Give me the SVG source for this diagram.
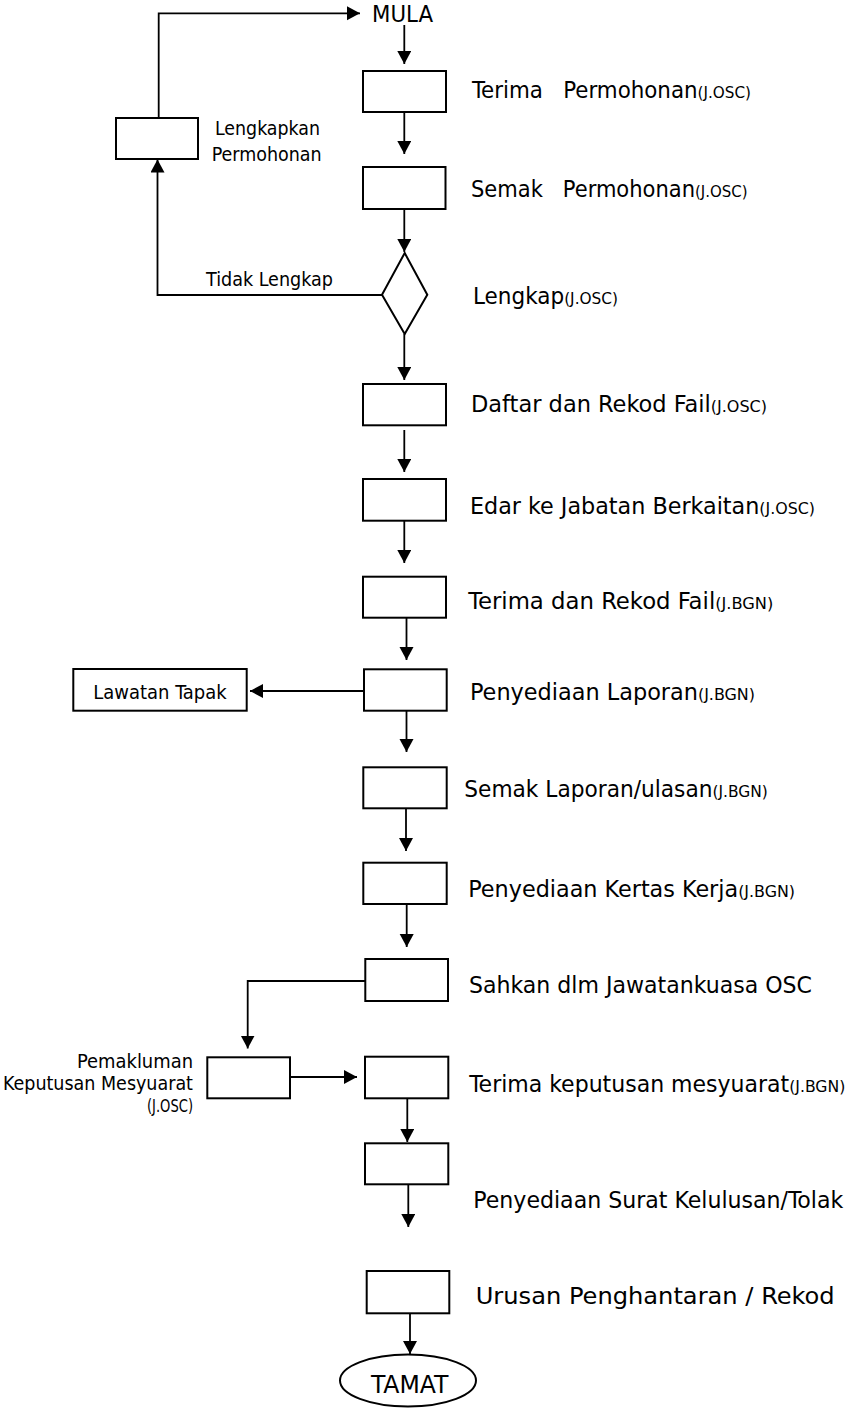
<svg xmlns="http://www.w3.org/2000/svg" width="850" height="1410" viewBox="0 0 850 1410">
<style>
.box{fill:#fff;stroke:#000;stroke-width:2}
.ln{fill:none;stroke:#000;stroke-width:1.8}
.t{font-family:"DejaVu Sans Condensed","DejaVu Sans",sans-serif;font-size:22.5px;fill:#000}
.s{font-size:16px}
.m{font-family:"DejaVu Sans Condensed","DejaVu Sans",sans-serif;font-size:20px;fill:#000}
.pre{white-space:pre}
</style>
<defs>
<marker id="ah" markerUnits="userSpaceOnUse" markerWidth="15" markerHeight="15" refX="13" refY="7" orient="auto">
<path d="M0,0 L13,7 L0,14 Z" fill="#000"/>
</marker>
</defs>
<rect width="850" height="1410" fill="#fff"/>
<g id="connectors" class="ln">
<line x1="404.3" y1="25" x2="404.3" y2="64" marker-end="url(#ah)"/>
<line x1="404.3" y1="112" x2="404.3" y2="154" marker-end="url(#ah)"/>
<line x1="404.3" y1="209" x2="404.3" y2="252" marker-end="url(#ah)"/>
<line x1="404.3" y1="334" x2="404.3" y2="380" marker-end="url(#ah)"/>
<line x1="404.3" y1="430" x2="404.3" y2="472" marker-end="url(#ah)"/>
<line x1="404.3" y1="521" x2="404.3" y2="563" marker-end="url(#ah)"/>
<line x1="406.5" y1="618" x2="406.5" y2="660" marker-end="url(#ah)"/>
<line x1="406.5" y1="711" x2="406.5" y2="752" marker-end="url(#ah)"/>
<line x1="406" y1="808" x2="406" y2="851" marker-end="url(#ah)"/>
<line x1="406.7" y1="904" x2="406.7" y2="947" marker-end="url(#ah)"/>
<line x1="407.3" y1="1098" x2="407.3" y2="1142" marker-end="url(#ah)"/>
<line x1="408.3" y1="1184" x2="408.3" y2="1227" marker-end="url(#ah)"/>
<line x1="410" y1="1313" x2="410" y2="1354" marker-end="url(#ah)"/>
<polyline points="382,295 157.5,295 157.5,159.5" marker-end="url(#ah)"/>
<polyline points="158.7,118 158.7,13.3 360,13.3" marker-end="url(#ah)"/>
<line x1="364" y1="691" x2="250" y2="691" marker-end="url(#ah)"/>
<polyline points="365.3,981 247.7,981 247.7,1048.5" marker-end="url(#ah)"/>
<line x1="290" y1="1077" x2="357" y2="1077" marker-end="url(#ah)"/>
</g>
<g id="mula"><text class="t" x="372" y="21.7" textLength="61" lengthAdjust="spacingAndGlyphs" style="font-size:23px">MULA</text></g>
<g id="n1"><rect class="box" x="363" y="71" width="83" height="41"/><text class="t pre" xml:space="preserve" x="472" y="98" textLength="279" lengthAdjust="spacingAndGlyphs">Terima   Permohonan<tspan class="s">(J.OSC)</tspan></text></g>
<g id="n2"><rect class="box" x="363" y="167" width="82.5" height="42"/><text class="t pre" xml:space="preserve" x="471" y="196.7" textLength="276.5" lengthAdjust="spacingAndGlyphs">Semak   Permohonan<tspan class="s">(J.OSC)</tspan></text></g>
<g id="n3"><polygon class="box" points="404.7,253 427.3,294.7 404.7,334 382,294.7"/><text class="t" x="473" y="304" textLength="145" lengthAdjust="spacingAndGlyphs">Lengkap<tspan class="s">(J.OSC)</tspan></text></g>
<g id="n_lengkapkan"><rect class="box" x="116" y="118" width="82" height="41"/><text class="m" x="215" y="135" textLength="105" lengthAdjust="spacingAndGlyphs">Lengkapkan</text><text class="m" x="211.7" y="160.5" textLength="110" lengthAdjust="spacingAndGlyphs">Permohonan</text></g>
<g id="lbl_tidak"><text class="m" x="206" y="286" textLength="127" lengthAdjust="spacingAndGlyphs">Tidak Lengkap</text></g>
<g id="n4"><rect class="box" x="363" y="384" width="83" height="41.3"/><text class="t" x="471" y="412" textLength="296" lengthAdjust="spacingAndGlyphs">Daftar dan Rekod Fail<tspan class="s">(J.OSC)</tspan></text></g>
<g id="n5"><rect class="box" x="363" y="479" width="83" height="41.7"/><text class="t" x="470" y="514" textLength="345" lengthAdjust="spacingAndGlyphs">Edar ke Jabatan Berkaitan<tspan class="s">(J.OSC)</tspan></text></g>
<g id="n6"><rect class="box" x="363" y="576.7" width="83" height="41"/><text class="t" x="468.3" y="609" textLength="305" lengthAdjust="spacingAndGlyphs">Terima dan Rekod Fail<tspan class="s">(J.BGN)</tspan></text></g>
<g id="n7"><rect class="box" x="364" y="669.3" width="82.7" height="41.4"/><text class="t" x="470" y="700" textLength="285" lengthAdjust="spacingAndGlyphs">Penyediaan Laporan<tspan class="s">(J.BGN)</tspan></text></g>
<g id="n_lawatan"><rect class="box" x="73.3" y="669" width="173.4" height="41.7"/><text class="m" x="93.3" y="699" textLength="133.4" lengthAdjust="spacingAndGlyphs">Lawatan Tapak</text></g>
<g id="n8"><rect class="box" x="363.3" y="767.3" width="83.4" height="41"/><text class="t" x="464.3" y="796.7" textLength="303.4" lengthAdjust="spacingAndGlyphs">Semak Laporan/ulasan<tspan class="s">(J.BGN)</tspan></text></g>
<g id="n9"><rect class="box" x="363.3" y="862.7" width="83.4" height="41.3"/><text class="t" x="468.3" y="896.7" textLength="326.7" lengthAdjust="spacingAndGlyphs">Penyediaan Kertas Kerja<tspan class="s">(J.BGN)</tspan></text></g>
<g id="n10"><rect class="box" x="365.3" y="959" width="82.7" height="42"/><text class="t" x="469" y="993" textLength="343" lengthAdjust="spacingAndGlyphs">Sahkan dlm Jawatankuasa OSC</text></g>
<g id="n_pemakluman"><rect class="box" x="207.3" y="1057.3" width="82.7" height="41"/><text class="m" x="77" y="1068" textLength="116" lengthAdjust="spacingAndGlyphs">Pemakluman</text><text class="m" x="3" y="1090" textLength="190" lengthAdjust="spacingAndGlyphs">Keputusan Mesyuarat</text><text class="m" x="147" y="1112" textLength="46" lengthAdjust="spacingAndGlyphs" style="font-size:17px">(J.OSC)</text></g>
<g id="n11"><rect class="box" x="365" y="1056.7" width="83.3" height="41.6"/><text class="t" x="469.3" y="1091.7" textLength="376" lengthAdjust="spacingAndGlyphs">Terima keputusan mesyuarat<tspan class="s">(J.BGN)</tspan></text></g>
<g id="n12"><rect class="box" x="365" y="1143.3" width="83.3" height="41"/><text class="t" x="473.3" y="1208.3" textLength="370" lengthAdjust="spacingAndGlyphs">Penyediaan Surat Kelulusan/Tolak</text></g>
<g id="n13"><rect class="box" x="366.7" y="1271" width="82.6" height="42.3"/><text class="t" x="475.7" y="1304" textLength="359" lengthAdjust="spacingAndGlyphs">Urusan Penghantaran / Rekod</text></g>
<g id="tamat"><ellipse class="box" cx="408" cy="1380.5" rx="68" ry="26"/><text class="t" x="371" y="1392.7" textLength="77.3" lengthAdjust="spacingAndGlyphs" style="font-size:24px">TAMAT</text></g>
</svg>
